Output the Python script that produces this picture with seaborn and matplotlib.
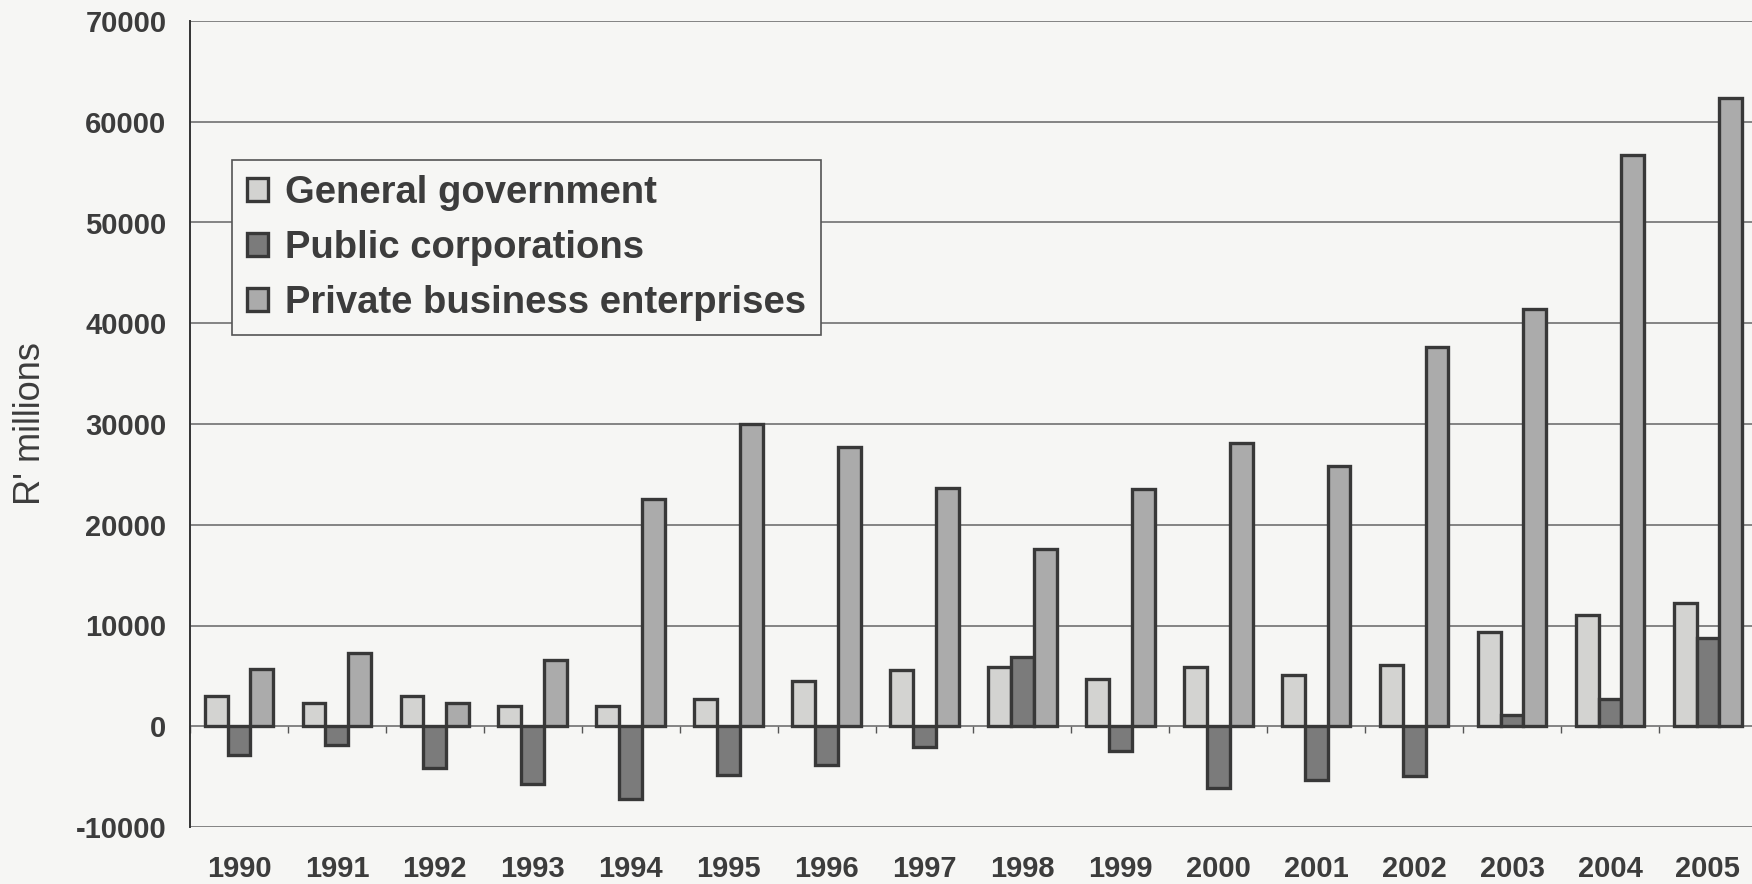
"""Gross fixed capital formation by type of organisation, 1990-2005."""

import matplotlib.pyplot as plt
import numpy as np
import pandas as pd
import seaborn as sns

# Data (R' millions)
years = [str(y) for y in range(1990, 2006)]
general_government = [2970, 2310, 2970, 2050, 2050, 2710, 4460, 5540,
                      5840, 4690, 5840, 5120, 6100, 9400, 11060, 12200]
public_corporations = [-2900, -1820, -4130, -5780, -7260, -4790, -3860, -2080,
                       6830, -2410, -6100, -5380, -4950, 1150, 2740, 8750]
private_business = [5680, 7260, 2310, 6600, 22540, 30030, 27720, 23600,
                    17590, 23500, 28150, 25840, 37600, 41430, 56700, 62360]
series_names = ["General government", "Public corporations",
                "Private business enterprises"]
y_ticks = [-10000, 0, 10000, 20000, 30000, 40000, 50000, 60000, 70000]

# Long-form table for seaborn
df = pd.DataFrame({
    "year": years * 3,
    "series": np.repeat(series_names, len(years)),
    "value": general_government + public_corporations + private_business,
})

bg = "#f6f6f4"
text_col = "#3c3c3c"
palette = {
    "General government": "#d3d3d1",
    "Public corporations": "#7b7b7b",
    "Private business enterprises": "#ababab",
}

sns.set_style("white")
plt.rcParams["font.family"] = ["Liberation Sans", "DejaVu Sans"]
plt.rcParams["axes.unicode_minus"] = False

fig = plt.figure(figsize=(17.52, 8.84), dpi=100, facecolor=bg)
ax = fig.add_axes([190 / 1752, 57 / 884, 1562 / 1752, 806 / 884])
ax.set_facecolor(bg)

sns.barplot(
    data=df,
    x="year",
    y="value",
    hue="series",
    palette=palette,
    width=0.7,
    edgecolor="#383838",
    linewidth=2.4,
    saturation=1,
    errorbar=None,
    ax=ax,
)

ymin, ymax = y_ticks[0], y_ticks[-1]
ax.set_ylim(ymin, ymax)
ax.set_xlim(-0.5, len(years) - 0.55)
ax.set_yticks(y_ticks)
ax.set_axisbelow(True)
ax.grid(axis="y", color="#707070", linewidth=1.2)
ax.grid(axis="x", visible=False)

for side in ["top", "right", "bottom"]:
    ax.spines[side].set_visible(False)
ax.spines["left"].set_color("#333333")
ax.spines["left"].set_linewidth(1.4)

ax.tick_params(axis="y", direction="out", length=4, width=1, color="#555555",
               pad=13, labelsize=21, labelcolor=text_col)
ax.tick_params(axis="x", length=0, pad=20, labelsize=21, labelcolor=text_col)
for lbl in ax.get_xticklabels() + ax.get_yticklabels():
    lbl.set_fontweight("bold")

ax.set_xlabel("")
ax.set_ylabel("R' millions", fontsize=26, color=text_col, labelpad=20)

# Category boundary ticks on the zero line
zero_frac = (0 - ymin) / (ymax - ymin)
sec = ax.secondary_xaxis(zero_frac)
sec.set_xticks(np.arange(len(years) + 1) - 0.5)
sec.tick_params(direction="out", length=5, width=1, color="#555555",
                labelbottom=False, labeltop=False)
sec.spines["bottom"].set_visible(False)
sec.spines["top"].set_visible(False)

# Legend
handles, labels = ax.get_legend_handles_labels()
leg = ax.legend(
    handles,
    labels,
    loc="upper left",
    bbox_to_anchor=(0.027, 0.8275),
    borderaxespad=0,
    frameon=True,
    fancybox=False,
    facecolor=bg,
    edgecolor="#555555",
    framealpha=1,
    handlelength=0.55,
    handleheight=0.55,
    handletextpad=0.45,
    labelspacing=0.5,
    borderpad=0.38,
    prop={"size": 27.5, "weight": "bold"},
)
leg.get_frame().set_linewidth(1.2)
for t in leg.get_texts():
    t.set_color(text_col)

fig.savefig("out.png", dpi=100, facecolor=bg)
